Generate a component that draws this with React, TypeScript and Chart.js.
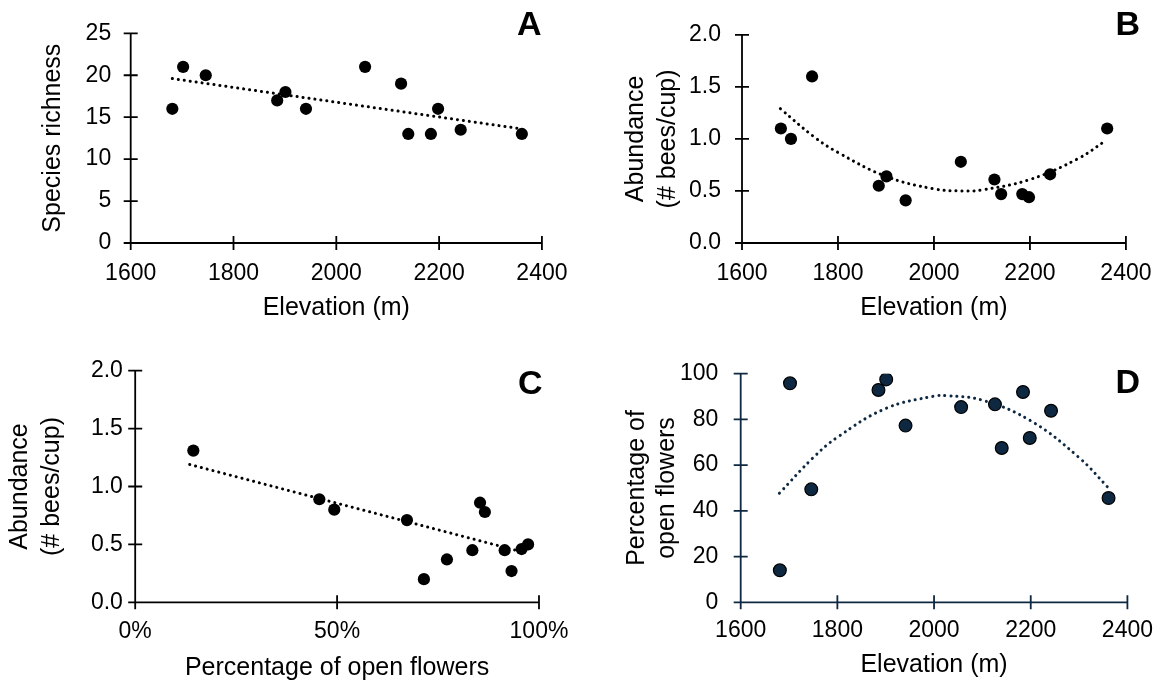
import React, { useEffect, useRef } from 'react';
import { Chart, registerables } from 'chart.js';

Chart.register(...registerables);

// ---------- DATA ----------
const elevation = [1681, 1702, 1746, 1885, 1901, 1941, 2056, 2126, 2140, 2184, 2198, 2242, 2361];
const speciesRichness = [16, 21, 20, 17, 18, 16, 21, 19, 13, 13, 16, 13.5, 13];
const abundanceByElevation = [1.1, 1.0, 1.6, 0.55, 0.64, 0.41, 0.78, 0.61, 0.47, 0.47, 0.44, 0.66, 1.1];
const openFlowersByElevation = [14.0, 95.8, 49.4, 92.9, 97.5, 77.3, 85.4, 86.6, 67.5, 92.0, 71.9, 83.8, 45.6];

const openFlowersC = [14.4, 45.6, 49.3, 67.3, 71.5, 77.2, 83.5, 85.4, 86.6, 91.5, 93.2, 95.7, 97.3];
const abundanceC = [1.31, 0.89, 0.8, 0.71, 0.2, 0.37, 0.45, 0.86, 0.78, 0.45, 0.27, 0.46, 0.5];

// trend lines
const trendAx = [1681, 2361];
const trendAy = [19.6, 13.6];
const trendBx = [1680, 1750, 1800, 1900, 2000, 2060, 2100, 2200, 2300, 2360];
const trendBy = [1.29, 1.02, 0.87, 0.64, 0.52, 0.5, 0.51, 0.61, 0.81, 0.99];
const trendCx = [13.5, 96.4];
const trendCy = [1.19, 0.43];
const trendDx = [1680, 1750, 1800, 1900, 2000, 2025, 2100, 2200, 2300, 2361];
const trendDy = [47.7, 63.3, 72.2, 84.8, 90.2, 90.4, 88.4, 79.4, 63.3, 50.0];

// tick labels
const elevationTicks = ['1600', '1800', '2000', '2200', '2400'];
const richnessTicks = ['0', '5', '10', '15', '20', '25'];
const abundanceTicks = ['0.0', '0.5', '1.0', '1.5', '2.0'];
const percentTicks = ['0%', '50%', '100%'];
const openFlowerTicks = ['0', '20', '40', '60', '80', '100'];

const FONT = "'Liberation Sans', Arial, Helvetica, sans-serif";

const zip = (xs: number[], ys: number[]) => xs.map((x, i) => ({ x, y: ys[i] }));

function makeAxesPlugin(color: string, width: number, tick: number) {
  return {
    id: 'crossAxes',
    beforeDatasetsDraw(chart: any) {
      const ctx = chart.ctx;
      const xs = chart.scales.x;
      const ys = chart.scales.y;
      const left = xs.left;
      const right = xs.right;
      const top = ys.top;
      const bottom = ys.bottom;
      ctx.save();
      ctx.strokeStyle = color;
      ctx.lineWidth = width;
      ctx.lineCap = 'butt';
      ctx.beginPath();
      ctx.moveTo(left - tick, bottom);
      ctx.lineTo(right, bottom);
      ctx.moveTo(left, top);
      ctx.lineTo(left, bottom + tick);
      for (let i = 0; i < xs.ticks.length; i++) {
        const p = xs.getPixelForTick(i);
        ctx.moveTo(p, bottom - tick);
        ctx.lineTo(p, bottom + tick);
      }
      for (let i = 0; i < ys.ticks.length; i++) {
        const p = ys.getPixelForTick(i);
        ctx.moveTo(left - tick, p);
        ctx.lineTo(left + tick, p);
      }
      ctx.stroke();
      ctx.restore();
    },
  };
}

type Spec = {
  left: number; top: number; w: number; h: number;
  plot: { l: number; r: number; t: number; b: number };
  xMin: number; xMax: number; xStep: number; xLabels: string[];
  yMin: number; yMax: number; yStep: number; yLabels: string[];
  xTitle: string; yTitle: string | string[];
  xTickPad: number; yTickPad: number; xTitlePad: number; yTitlePad: number; yTitleLH: number;
  points: { x: number; y: number }[];
  trend: { x: number; y: number }[];
  tension: number;
  axisColor: string; pointFill: string; pointBorder: string; pointBorderWidth: number; trendColor: string;
  pointRadius: number;
  letter: string; letterLeft: number; letterTop: number;
};

function Panel({ s }: { s: Spec }) {
  const ref = useRef<HTMLCanvasElement | null>(null);
  useEffect(() => {
    if (!ref.current) return;
    const chart = new Chart(ref.current, {
      type: 'scatter',
      data: {
        datasets: [
          {
            data: s.points,
            backgroundColor: s.pointFill,
            borderColor: s.pointBorder,
            borderWidth: s.pointBorderWidth,
            pointRadius: s.pointRadius,
            showLine: false,
          } as any,
          {
            data: s.trend,
            showLine: true,
            pointRadius: 0,
            borderColor: s.trendColor,
            borderWidth: 3,
            borderDash: [0.1, 5.9],
            borderCapStyle: 'round',
            tension: s.tension,
            fill: false,
          } as any,
        ],
      },
      options: {
        responsive: false,
        animation: false,
        events: [],
        layout: { padding: { left: 0, right: s.w - s.plot.r, top: s.plot.t, bottom: 0 } },
        plugins: { legend: { display: false }, tooltip: { enabled: false } },
        scales: {
          x: {
            type: 'linear',
            min: s.xMin,
            max: s.xMax,
            grid: { display: false, drawTicks: false },
            border: { display: false },
            ticks: {
              stepSize: s.xStep,
              padding: s.xTickPad,
              color: '#000',
              maxRotation: 0,
              autoSkip: false,
              font: { family: FONT, size: 23 },
              callback: (_v: any, i: number) => s.xLabels[i],
            },
            title: {
              display: true,
              text: s.xTitle,
              color: '#000',
              font: { family: FONT, size: 25 },
              padding: { top: 0, bottom: s.xTitlePad },
            },
            afterFit: (sc: any) => { sc.height = s.h - s.plot.b; },
          },
          y: {
            type: 'linear',
            min: s.yMin,
            max: s.yMax,
            grid: { display: false, drawTicks: false },
            border: { display: false },
            ticks: {
              stepSize: s.yStep,
              padding: s.yTickPad,
              color: '#000',
              autoSkip: false,
              font: { family: FONT, size: 23 },
              callback: (_v: any, i: number) => s.yLabels[i],
            },
            title: {
              display: true,
              text: s.yTitle,
              color: '#000',
              font: { family: FONT, size: 25, lineHeight: s.yTitleLH },
              padding: { top: s.yTitlePad, bottom: 0 },
            },
            afterFit: (sc: any) => { sc.width = s.plot.l; },
          },
        },
      } as any,
      plugins: [makeAxesPlugin(s.axisColor, 1.8, 7)],
    });
    return () => chart.destroy();
  }, []);
  return (
    <>
      <div style={{ position: 'absolute', left: s.left, top: s.top, width: s.w, height: s.h }}>
        <canvas ref={ref} width={s.w} height={s.h} style={{ display: 'block', width: s.w, height: s.h }} />
      </div>
      <div
        style={{
          position: 'absolute',
          left: s.letterLeft,
          top: s.letterTop,
          fontFamily: FONT,
          fontWeight: 'bold',
          fontSize: 34,
          lineHeight: 1,
          color: '#000',
        }}
      >
        {s.letter}
      </div>
    </>
  );
}

const NAVY = '#0E2841';

const specs: Spec[] = [
  {
    left: 0, top: 0, w: 584, h: 330,
    plot: { l: 130.7, r: 544.1, t: 23, b: 243 },
    xMin: 1600, xMax: 2400, xStep: 200, xLabels: elevationTicks,
    yMin: 0, yMax: 25, yStep: 5, yLabels: richnessTicks,
    xTitle: 'Elevation (m)', yTitle: 'Species richness',
    xTickPad: 16.5, yTickPad: 19.5, xTitlePad: 6.7, yTitlePad: 38, yTitleLH: 1.2,
    points: zip(elevation, speciesRichness),
    trend: zip(trendAx, trendAy), tension: 0,
    axisColor: '#000', pointFill: '#000', pointBorder: '#000', pointBorderWidth: 0, trendColor: '#000',
    pointRadius: 6.1,
    letter: 'A', letterLeft: 517, letterTop: 6,
  },
  {
    left: 584, top: 0, w: 584, h: 330,
    plot: { l: 158, r: 548.6, t: 21, b: 243 },
    xMin: 1600, xMax: 2400, xStep: 200, xLabels: elevationTicks,
    yMin: 0, yMax: 2, yStep: 0.5, yLabels: abundanceTicks,
    xTitle: 'Elevation (m)', yTitle: ['Abundance', '(# bees/cup)'],
    xTickPad: 16.5, yTickPad: 21, xTitlePad: 6.7, yTitlePad: 36, yTitleLH: 1.28,
    points: zip(elevation, abundanceByElevation),
    trend: zip(trendBx, trendBy), tension: 0.4,
    axisColor: '#000', pointFill: '#000', pointBorder: '#000', pointBorderWidth: 0, trendColor: '#000',
    pointRadius: 6.1,
    letter: 'B', letterLeft: 1115.5, letterTop: 6,
  },
  {
    left: 0, top: 330, w: 584, h: 354,
    plot: { l: 135.2, r: 539.7, t: 40.7, b: 272.3 },
    xMin: 0, xMax: 100, xStep: 50, xLabels: percentTicks,
    yMin: 0, yMax: 2, yStep: 0.5, yLabels: abundanceTicks,
    xTitle: 'Percentage of open flowers', yTitle: ['Abundance', '(# bees/cup)'],
    xTickPad: 15.6, yTickPad: 12.3, xTitlePad: 0.7, yTitlePad: 4.5, yTitleLH: 1.28,
    points: zip(openFlowersC, abundanceC),
    trend: zip(trendCx, trendCy), tension: 0,
    axisColor: '#000', pointFill: '#000', pointBorder: '#000', pointBorderWidth: 0, trendColor: '#000',
    pointRadius: 6.1,
    letter: 'C', letterLeft: 518, letterTop: 365,
  },
  {
    left: 584, top: 330, w: 584, h: 354,
    plot: { l: 156.7, r: 549.7, t: 43.7, b: 272.3 },
    xMin: 1600, xMax: 2400, xStep: 200, xLabels: elevationTicks,
    yMin: 0, yMax: 100, yStep: 20, yLabels: openFlowerTicks,
    xTitle: 'Elevation (m)', yTitle: ['Percentage of', 'open flowers'],
    xTickPad: 15, yTickPad: 22.4, xTitlePad: 4, yTitlePad: 38.3, yTitleLH: 1.2,
    points: zip(elevation, openFlowersByElevation),
    trend: zip(trendDx, trendDy), tension: 0.4,
    axisColor: NAVY, pointFill: NAVY, pointBorder: '#000', pointBorderWidth: 1.2, trendColor: NAVY,
    pointRadius: 6.4,
    letter: 'D', letterLeft: 1115.5, letterTop: 364,
  },
];

export default function App() {
  return (
    <div style={{ position: 'absolute', left: 0, top: 0, width: 1168, height: 684, background: '#fff', overflow: 'hidden' }}>
      {specs.map((s) => (
        <Panel key={s.letter} s={s} />
      ))}
    </div>
  );
}
